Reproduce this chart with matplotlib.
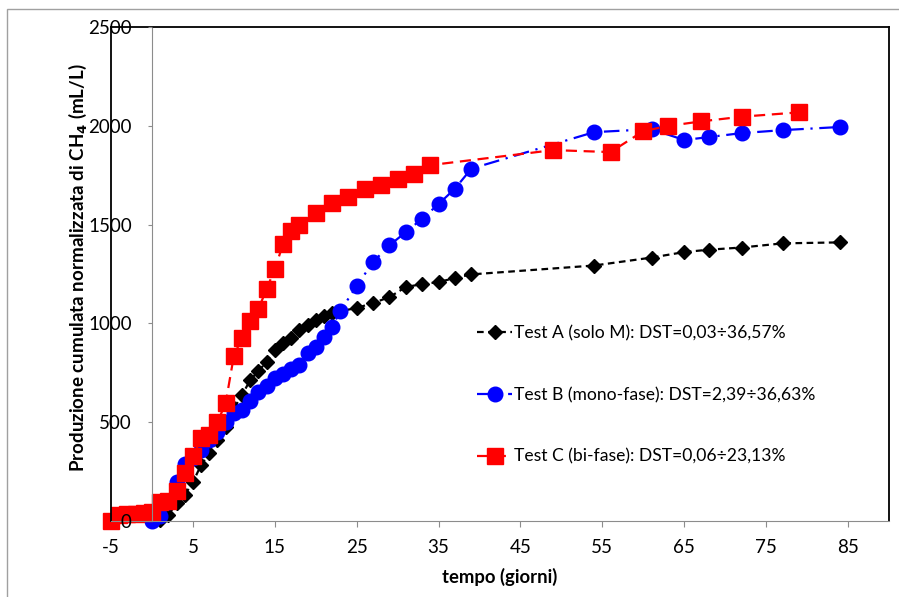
import matplotlib
matplotlib.use("Agg")
import matplotlib.pyplot as plt
from matplotlib.lines import Line2D
from matplotlib.patches import Rectangle

# ====== DATA ======
# Test A (solo M)
days_a = [0, 1, 2, 3, 4, 5, 6, 7, 8, 9, 10, 11, 12, 13, 14, 15, 16, 17, 18, 19, 20, 21, 22, 23,
          25, 27, 29, 31, 33, 35, 37, 39, 54, 61, 65, 68, 72, 77, 84]
prod_a = [0, 5, 30, 91, 132, 197, 283, 344, 410, 476, 570, 638, 713, 759, 805, 865, 900, 926, 966,
          992, 1017, 1037, 1052, 1062, 1078, 1103, 1133, 1184, 1199, 1209, 1230, 1248, 1293, 1333,
          1361, 1373, 1384, 1405, 1410]

# Test B (mono-fase)
days_b = [0, 1, 2, 3, 4, 5, 6, 7, 8, 9, 10, 11, 12, 13, 14, 15, 16, 17, 18, 19, 20, 21, 22, 23,
          25, 27, 29, 31, 33, 35, 37, 39, 54, 61, 65, 68, 72, 77, 84]
prod_b = [0, 25, 95, 195, 290, 320, 360, 410, 450, 500, 546, 560, 607, 653, 683, 723, 744, 769, 789,
          850, 880, 931, 981, 1063, 1189, 1311, 1395, 1462, 1530, 1604, 1682, 1783, 1968, 1983,
          1928, 1943, 1963, 1978, 1994]

# Test C (bi-fase)
days_c = [-5, -4, -3, -2, -1, 0, 1, 2, 3, 4, 5, 6, 7, 8, 9, 10, 11, 12, 13, 14, 15, 16, 17, 18,
          20, 22, 24, 26, 28, 30, 32, 34, 49, 56, 60, 63, 67, 72, 79]
prod_c = [0, 30, 33, 36, 40, 45, 96, 100, 152, 243, 327, 418, 435, 500, 597, 835, 928, 1012, 1073,
          1174, 1275, 1400, 1467, 1500, 1561, 1609, 1642, 1680, 1700, 1733, 1758, 1801, 1877, 1867,
          1973, 1999, 2022, 2046, 2068]

labels = ["Test A (solo M): DST=0,03÷36,57%",
          "Test B (mono-fase): DST=2,39÷36,63%",
          "Test C (bi-fase): DST=0,06÷23,13%"]

x_ticks = [-5, 5, 15, 25, 35, 45, 55, 65, 75, 85]
y_ticks = [0, 500, 1000, 1500, 2000, 2500]

# ====== STYLE ======
plt.rcParams['font.family'] = ['Lato', 'DejaVu Sans']
plt.rcParams['axes.unicode_minus'] = False
GRAY = "#8c8c8c"

fig = plt.figure(figsize=(8.99, 5.97), dpi=100)
ax = fig.add_axes([111 / 899, 1 - 521 / 597, 778 / 899, 494 / 597])

# outer chart frame (Excel style)
fig.patches.append(Rectangle((7 / 899, -0.1), 2, 1 - 9 / 597 + 0.1, transform=fig.transFigure,
                             fill=False, edgecolor="#a0a0a0", linewidth=1.0))

ax.plot(days_a, prod_a, color="black", linestyle=(0, (3, 2)), linewidth=1.6,
        marker="D", markersize=7.5, label=labels[0], clip_on=False)
ax.plot(days_b, prod_b, color="blue", linestyle=(0, (7, 3, 1, 3)), linewidth=1.6,
        marker="o", markersize=10.5, label=labels[1], clip_on=False)
ax.plot(days_c, prod_c, color="red", linestyle=(0, (5, 3)), linewidth=1.6,
        marker="s", markersize=11.5, label=labels[2], clip_on=False)

ax.set_xlim(-5, 90)
ax.set_ylim(0, 2500)
ax.set_xticks(x_ticks)
ax.set_yticks(y_ticks)

# y axis crosses at x=0, plot area border in black
ax.spines['left'].set_position(('data', 0))
ax.spines['left'].set_color(GRAY)
ax.spines['bottom'].set_color(GRAY)
for side in ("top", "right"):
    ax.spines[side].set_color("black")
    ax.spines[side].set_linewidth(1.3)
ax.add_line(Line2D([0, 0], [0, 1], transform=ax.transAxes, color="black",
                   linewidth=1.3, clip_on=False))

ax.tick_params(axis="x", direction="out", length=4, color=GRAY, labelsize=13.5, pad=9)
ax.tick_params(axis="y", direction="out", length=3, color=GRAY, labelsize=13.5, pad=11.5)
ax.yaxis.set_zorder(3)

fig.text(500 / 899, 1 - 577 / 597, "tempo (giorni)", ha="center", va="center",
         fontsize=13.3, fontweight="bold")
fig.text(78 / 899, 1 - 268 / 597, r"Produzione cumulata normalizzata di CH$_\mathbf{4}$ (mL/L)",
         rotation=90, ha="center", va="center", fontsize=13.5, fontweight="bold")

ax.legend(loc="upper left", bbox_to_anchor=(0.462, 0.41), frameon=False, fontsize=12.6,
          handlelength=2.0, handletextpad=0.1, labelspacing=2.6, borderaxespad=0)

fig.savefig("out.png", dpi=100)
